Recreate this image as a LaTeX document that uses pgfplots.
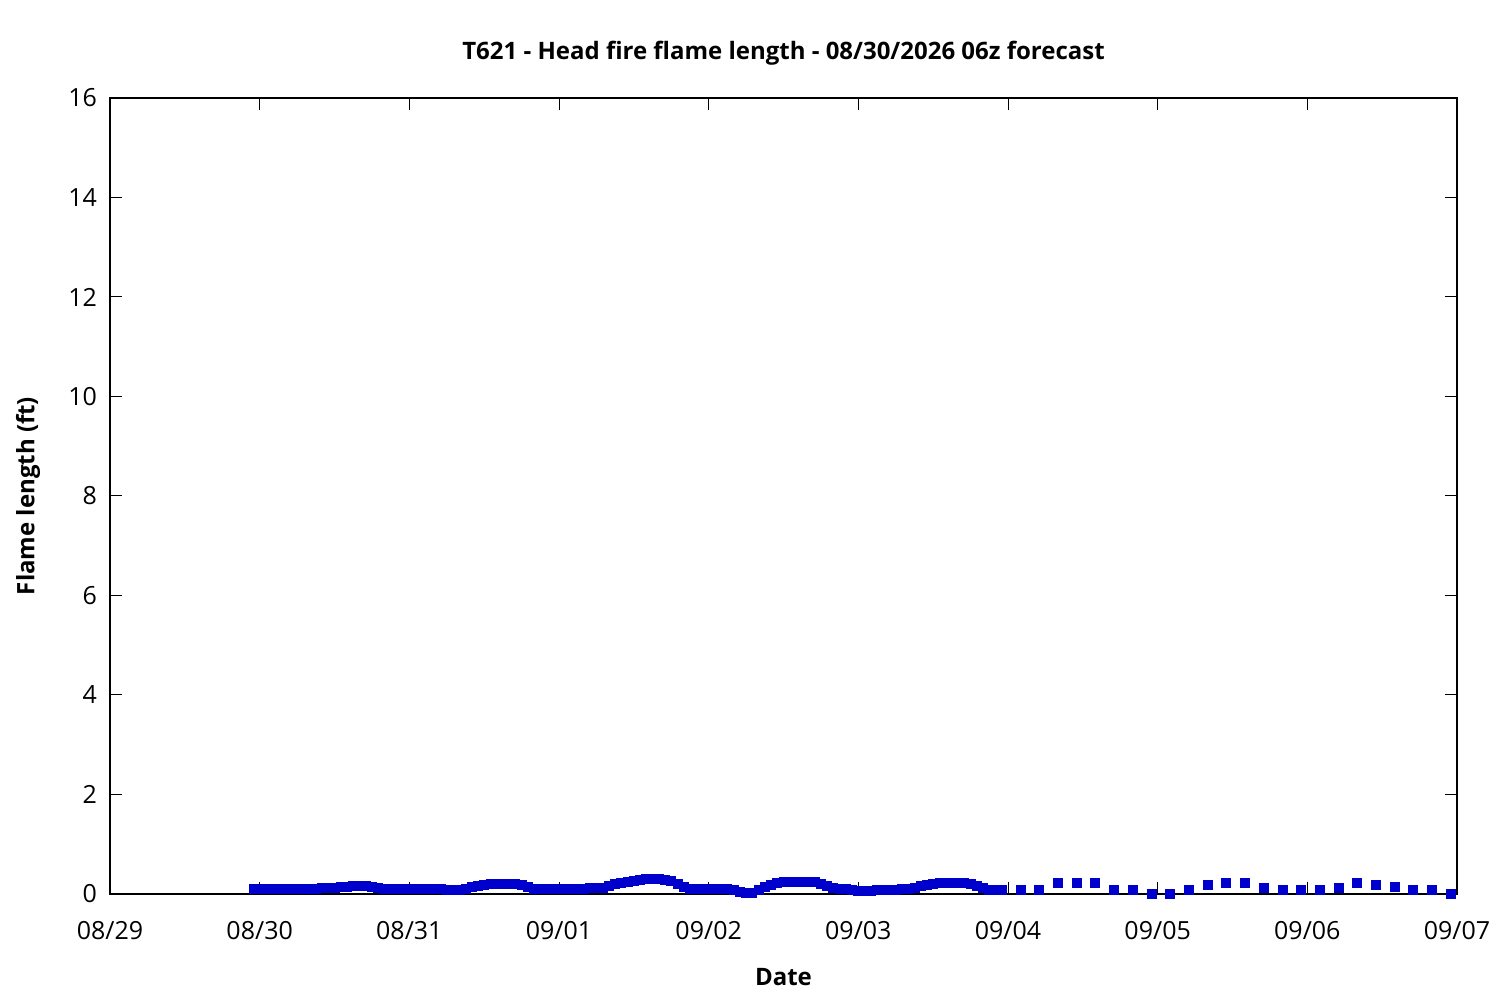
\documentclass[border=0pt]{standalone}
\usepackage{pgfplots}
\pgfplotsset{compat=1.18}
\usepackage{fontspec}
\setmainfont{Open Sans}
\definecolor{ptblue}{RGB}{0,0,204}
\begin{document}
\begin{tikzpicture}
\useasboundingbox (-55pt,-53pt) rectangle (695pt,447pt);
\begin{axis}[
  at={(0,0)}, anchor=south west,
  scale only axis, width=673.5pt, height=398pt,
  xmin=0, xmax=216, ymin=0, ymax=16,
  xtick={0,24,...,216},
  xticklabels={08/29,08/30,08/31,09/01,09/02,09/03,09/04,09/05,09/06,09/07},
  ytick={0,2,...,16},
  tick align=inside, major tick length=6pt,
  tick style={line width=0.5pt,black},
  axis line style={line width=0.75pt},
  ticklabel style={font=\fontsize{12.5}{14}\selectfont},
  /pgf/number format/assume math mode=true,
  xticklabel style={yshift=-10pt},
  yticklabel style={xshift=-3pt},
  title={\bfseries T621 - Head fire flame length - 08/30/2026 06z forecast},
  title style={font=\fontsize{12}{14}\selectfont, at={(0.5,1)}, anchor=center, yshift=16.5pt},
  xlabel={\bfseries Date},
  xlabel style={font=\fontsize{12}{14}\selectfont, at={(0.5,0)}, anchor=center, yshift=-41.5pt},
  ylabel={\bfseries Flame length (ft)},
  ylabel style={font=\fontsize{12}{14}\selectfont, at={(0,0.5)}, anchor=center, yshift=41pt},
  clip=false,
]
\addplot[only marks, mark=square*, mark size=2.25pt, color=ptblue] coordinates {
(23,0.10)(24,0.10)(25,0.10)(26,0.10)(27,0.10)(28,0.10)(29,0.10)(30,0.10)(31,0.10)(32,0.10)
(33,0.11)(34,0.12)(35,0.13)(36,0.13)(37,0.14)(38,0.15)(39,0.17)(40,0.17)(41,0.16)(42,0.15)
(43,0.13)(44,0.11)(45,0.10)(46,0.10)(47,0.10)(48,0.10)(49,0.10)(50,0.10)(51,0.10)(52,0.10)
(53,0.10)(54,0.09)(55,0.09)(56,0.09)(57,0.10)(58,0.14)(59,0.17)(60,0.19)(61,0.21)(62,0.21)
(63,0.21)(64,0.21)(65,0.20)(66,0.18)(67,0.15)(68,0.11)(69,0.10)(70,0.10)(71,0.10)(72,0.10)
(73,0.10)(74,0.10)(75,0.10)(76,0.11)(77,0.12)(78,0.12)(79,0.13)(80,0.17)(81,0.20)(82,0.23)
(83,0.25)(84,0.27)(85,0.29)(86,0.31)(87,0.31)(88,0.31)(89,0.29)(90,0.26)(91,0.20)(92,0.14)
(93,0.11)(94,0.10)(95,0.10)(96,0.10)(97,0.10)(98,0.10)(99,0.10)(100,0.08)(101,0.05)(102,0.02)
(103,0.03)(104,0.08)(105,0.15)(106,0.19)(107,0.22)(108,0.24)(109,0.25)(110,0.25)(111,0.25)(112,0.25)
(113,0.24)(114,0.21)(115,0.16)(116,0.12)(117,0.11)(118,0.10)(119,0.08)(120,0.07)(121,0.07)(122,0.07)
(123,0.08)(124,0.08)(125,0.08)(126,0.09)(127,0.10)(128,0.11)(129,0.13)(130,0.16)(131,0.19)(132,0.21)
(133,0.23)(134,0.23)(135,0.23)(136,0.23)(137,0.23)(138,0.21)(139,0.16)(140,0.12)(141,0.09)(142,0.08)
(143,0.08)
(146,0.08)(149,0.09)(152,0.22)(155,0.23)(158,0.23)(161,0.09)(164,0.08)(167,0.01)
(170,0.01)(173,0.08)(176,0.19)(179,0.23)(182,0.23)(185,0.12)(188,0.09)(191,0.09)
(194,0.09)(197,0.13)(200,0.22)(203,0.18)(206,0.15)(209,0.09)(212,0.09)(215,0.00)
};
\end{axis}
\end{tikzpicture}
\end{document}
